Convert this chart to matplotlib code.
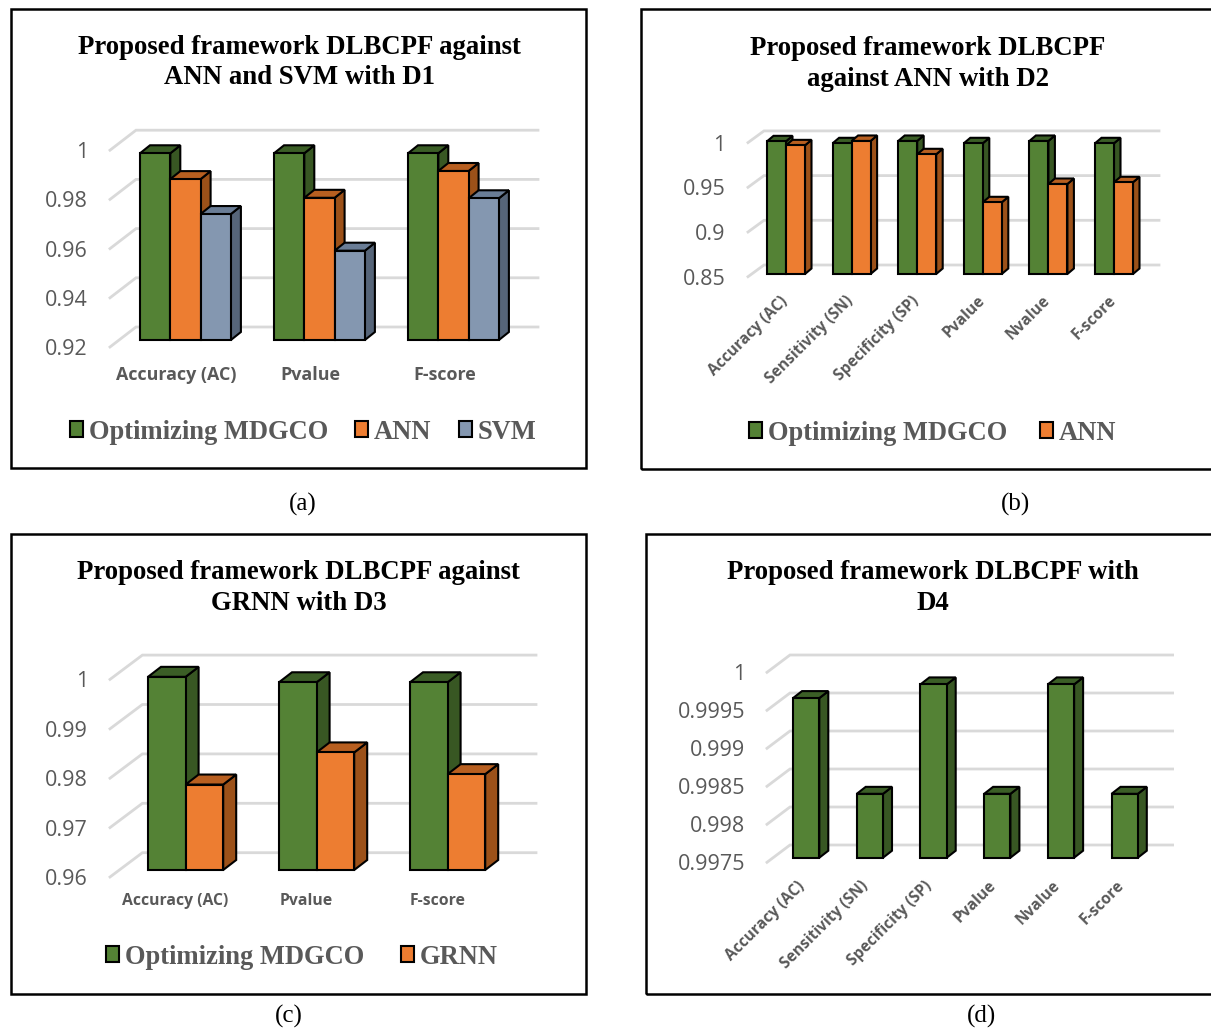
import matplotlib
matplotlib.use('Agg')
import matplotlib.pyplot as plt
from matplotlib.patches import Rectangle
from matplotlib.transforms import ScaledTranslation

W, H = 1211, 1032

# metric values per panel
cats_a = ['Accuracy (AC)', 'Pvalue', 'F-score']
mdgco_a = [0.9959, 0.9959, 0.9959]
ann_a = [0.9854, 0.9778, 0.9887]
svm_a = [0.9712, 0.9563, 0.9776]
ticks_a = [0.92, 0.94, 0.96, 0.98, 1.0]
ticklabels_a = ['0.92', '0.94', '0.96', '0.98', '1']

cats_b = ['Accuracy (AC)', 'Sensitivity (SN)', 'Specificity (SP)', 'Pvalue', 'Nvalue', 'F-score']
mdgco_b = [0.9984, 0.9962, 0.9988, 0.9962, 0.9988, 0.9962]
ann_b = [0.9939, 0.9988, 0.9839, 0.9302, 0.9507, 0.9526]
ticks_b = [0.85, 0.9, 0.95, 1.0]
ticklabels_b = ['0.85', '0.9', '0.95', '1']

cats_c = ['Accuracy (AC)', 'Pvalue', 'F-score']
mdgco_c = [0.9991, 0.9980, 0.9980]
grnn_c = [0.9773, 0.9838, 0.9794]
ticks_c = [0.96, 0.97, 0.98, 0.99, 1.0]
ticklabels_c = ['0.96', '0.97', '0.98', '0.99', '1']

cats_d = ['Accuracy (AC)', 'Sensitivity (SN)', 'Specificity (SP)', 'Pvalue', 'Nvalue', 'F-score']
mdgco_d = [0.99960, 0.99834, 0.99978, 0.99834, 0.99978, 0.99834]
ticks_d = [0.9975, 0.998, 0.9985, 0.999, 0.9995, 1.0]
ticklabels_d = ['0.9975', '0.998', '0.9985', '0.999', '0.9995', '1']

# front, side and top face colours
GREEN = ('#548235', '#385723', '#3B5E26')
ORANGE = ('#ED7D31', '#9C5119', '#B85F20')
BLUE = ('#8497B0', '#566579', '#6A7D96')

GREY = '#595959'
SERIF = 'Liberation Serif'
SANS = 'Open Sans'
EDGE = 1.5

plt.rcParams['font.family'] = SANS

fig = plt.figure(figsize=(W / 100, H / 100), dpi=100, facecolor='white')


def fx(px):
    return px / W


def fy(py):
    return 1 - py / H


def panel(frame, title, title_x, title_y, caption, caption_pos, cats, series, ticks, ticklabels,
          first_bar, spacing, bar_px, base, tick_px, depth, wall, label_right, legend_pos,
          legend_gap, cat_size, cat_pos, cat_shift):
    # outer box
    x0, y0, x1, y1 = frame
    fig.add_artist(Rectangle((fx(x0), fy(y1)), (x1 - x0) / W, (y1 - y0) / H, transform=fig.transFigure,
                             fill=False, edgecolor='black', linewidth=1.8))
    for line, ty in zip(title, title_y):
        fig.text(fx(title_x), fy(ty), line, family=SERIF, weight='bold', size=19.3,
                 ha='center', va='center', color='black')
    fig.text(fx(caption_pos[0]), fy(caption_pos[1]), caption, family=SERIF, size=18,
             ha='center', va='center', color='black')

    n_series = len(series)
    group_px = bar_px * n_series
    left = first_bar + group_px / 2 - spacing / 2
    top = base - tick_px * (len(ticks) - 1)
    ax = fig.add_axes([fx(left), fy(base), spacing * len(cats) / W, (base - top) / H])
    ax.patch.set_alpha(0)
    ax.set_xlim(-0.5, len(cats) - 0.5)
    ax.set_ylim(ticks[0], ticks[-1])
    for s in ax.spines.values():
        s.set_visible(False)

    per_px = (ticks[1] - ticks[0]) / tick_px
    to_x = lambda px: (px - left) / spacing - 0.5
    dx = depth[0] / spacing
    dy = depth[1] * per_px

    # back wall gridlines with their slanted floor ends
    front_x, back_x, end_x, back_up, front_down = wall
    for t in ticks:
        ax.plot([to_x(front_x), to_x(back_x), to_x(end_x)],
                [t - front_down * per_px, t + back_up * per_px, t + back_up * per_px],
                color='#D9D9D9', lw=2.0, clip_on=False, zorder=1, solid_joinstyle='miter')

    w = bar_px / spacing
    z = 2
    for i in range(len(cats)):
        for j, (vals, cols, _) in enumerate(series):
            xl = i + (j - n_series / 2) * w
            xr = xl + w
            v = vals[i]
            ax.bar(xl, v - ticks[0], width=w, bottom=ticks[0], align='edge', color=cols[0],
                   edgecolor='black', linewidth=EDGE, clip_on=False, zorder=z + 1)
            ax.fill([xr, xr + dx, xr + dx, xr], [ticks[0], ticks[0] + dy, v + dy, v], facecolor=cols[1],
                    edgecolor='black', linewidth=EDGE, clip_on=False, zorder=z)
            ax.fill([xl, xl + dx, xr + dx, xr], [v, v + dy, v + dy, v], facecolor=cols[2],
                    edgecolor='black', linewidth=EDGE, clip_on=False, zorder=z)
            z += 2

    ax.set_yticks(ticks, ticklabels)
    ax.tick_params(axis='y', length=0, pad=(left - label_right) * 0.72, labelsize=15.5, labelcolor=GREY)
    shift = ScaledTranslation(0, -front_down / 100, fig.dpi_scale_trans)
    for lab in ax.get_yticklabels():
        lab.set_transform(lab.get_transform() + shift)

    rotated = len(cats) > 3
    ax.set_xticks(range(len(cats)), cats)
    ax.tick_params(axis='x', length=0, labelcolor=GREY, pad=(cat_pos - base) * 0.72)
    move = ScaledTranslation(cat_shift / 100, 0, fig.dpi_scale_trans)
    for lab in ax.get_xticklabels():
        lab.set_fontsize(cat_size)
        lab.set_fontweight('bold')
        lab.set_transform(lab.get_transform() + move)
        if rotated:
            lab.set_rotation(45)
            lab.set_ha('right')
            lab.set_va('top')
            lab.set_rotation_mode('anchor')

    handles = [Rectangle((0, 0), 1, 1, facecolor=c[0], edgecolor='black', linewidth=EDGE) for _, c, _ in series]
    names = [name for _, _, name in series]
    if len(series) > 1:
        fig.legend(handles, names, loc='center', bbox_to_anchor=(fx(legend_pos[0]), fy(legend_pos[1])),
                   ncol=len(series), frameon=False, labelcolor=GREY,
                   prop={'family': SERIF, 'weight': 'bold', 'size': 19.1},
                   handlelength=0.5, handleheight=0.55, handletextpad=0.2,
                   columnspacing=legend_gap, borderpad=0, borderaxespad=0)
    return ax


panel((11, 9, 586, 468), ['Proposed framework DLBCPF against', 'ANN and SVM with D1'], 299, [47.5, 78],
      '(a)', (303, 504.5), cats_a,
      [(mdgco_a, GREEN, 'Optimizing MDGCO'), (ann_a, ORANGE, 'ANN'), (svm_a, BLUE, 'SVM')],
      ticks_a, ticklabels_a, first_bar=140, spacing=134, bar_px=30.3, base=340, tick_px=49.2,
      depth=(10, 8), wall=(110, 136, 538, 13, 7), label_right=88, legend_pos=(303, 432),
      legend_gap=1.03, cat_size=12.9, cat_pos=366, cat_shift=-9)

panel((641, 9, 1216, 469), ['Proposed framework DLBCPF', 'against ANN with D2'], 928, [48.5, 79],
      '(b)', (1015, 504.5), cats_b,
      [(mdgco_b, GREEN, 'Optimizing MDGCO'), (ann_b, ORANGE, 'ANN')],
      ticks_b, ticklabels_b, first_bar=767, spacing=65.6, bar_px=19, base=274, tick_px=44.7,
      depth=(6.5, 5.5), wall=(748, 764, 1159, 9, 2.7), label_right=725.5, legend_pos=(932.5, 433),
      legend_gap=1.25, cat_size=11.2, cat_pos=293, cat_shift=-6)

panel((11, 534, 586, 994), ['Proposed framework DLBCPF against', 'GRNN with D3'], 298.5, [572.5, 603],
      '(c)', (289, 1016.5), cats_c,
      [(mdgco_c, GREEN, 'Optimizing MDGCO'), (grnn_c, ORANGE, 'GRNN')],
      ticks_c, ticklabels_c, first_bar=148, spacing=131, bar_px=37.6, base=870, tick_px=49.4,
      depth=(13, 10), wall=(110, 142.4, 536, 17.3, 7), label_right=88, legend_pos=(302, 957),
      legend_gap=1.4, cat_size=11.3, cat_pos=893, cat_shift=-10)

panel((646, 534, 1216, 994), ['Proposed framework DLBCPF with', 'D4'], 933, [572.5, 603],
      '(d)', (982, 1016.5), cats_d,
      [(mdgco_d, GREEN, 'Optimizing MDGCO')],
      ticks_d, ticklabels_d, first_bar=793, spacing=63.7, bar_px=26.3, base=857.7, tick_px=38,
      depth=(9, 7), wall=(767, 790, 1172.6, 12.7, 4.6), label_right=745.5, legend_pos=(930, 957),
      legend_gap=1.25, cat_size=11.2, cat_pos=878, cat_shift=-9)

fig.savefig('out.png', dpi=100)
